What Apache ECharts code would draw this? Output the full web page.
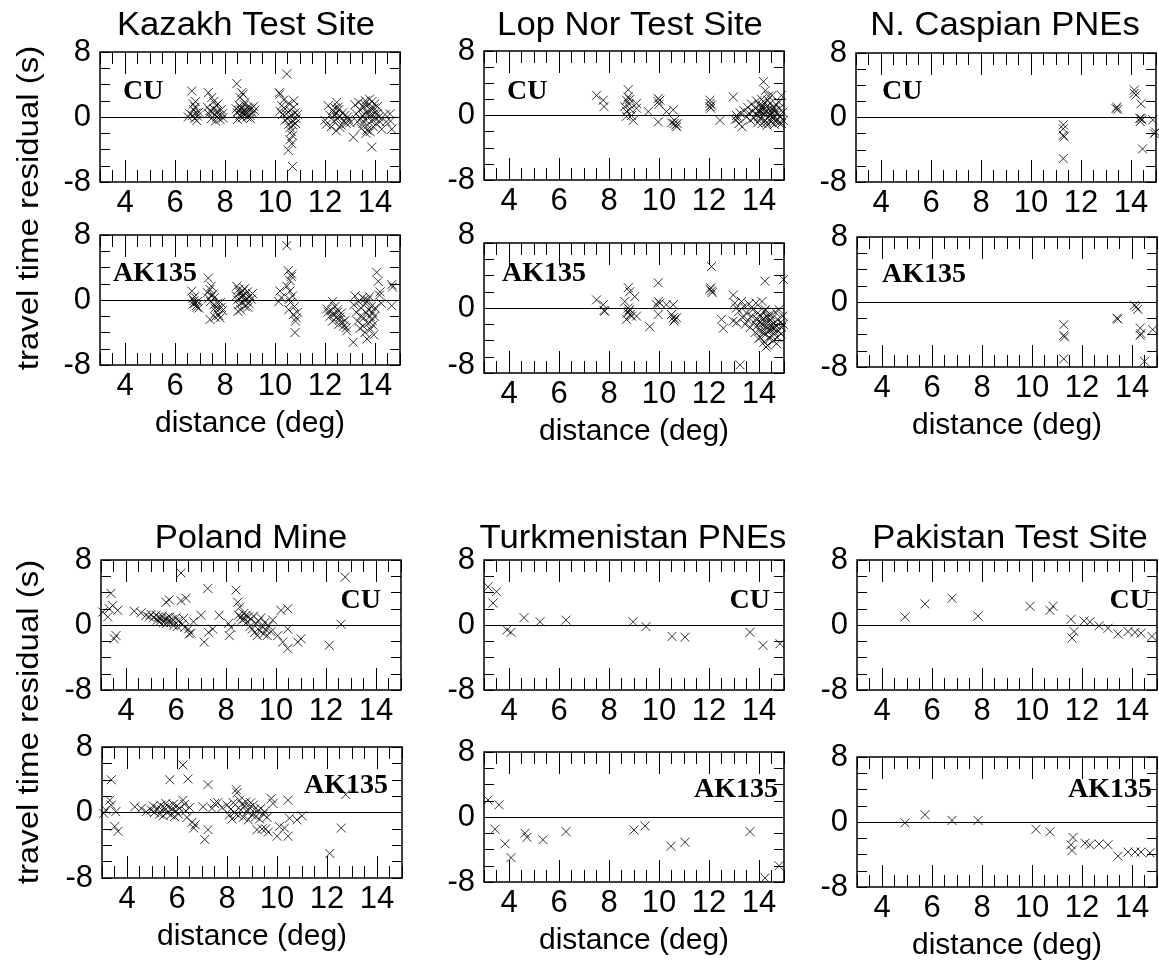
<!DOCTYPE html>
<html><head><meta charset="utf-8">
<script src="https://cdn.jsdelivr.net/npm/echarts@6/dist/echarts.min.js"></script>
<style>html,body{margin:0;padding:0;background:#fff}#c{width:1159px;height:966px}</style>
</head><body><div id="c"></div>
<script>
// ---------- DATA ----------
const xTickLabels = [4, 6, 8, 10, 12, 14];
const yTickLabels = [-8, 0, 8];
const siteTitles = ["Kazakh Test Site", "Lop Nor Test Site", "N. Caspian PNEs", "Poland Mine", "Turkmenistan PNEs", "Pakistan Test Site"];
const modelNames = ["CU", "AK135"];
const yAxisTitle = "travel time residual (s)";
const xAxisTitle = "distance (deg)";

const kazakhCU = [[6.67,3.2],[6.73,1.6],[6.8,1.2],[6.75,0.9],[6.85,0.5],[6.7,0.2],[6.53,0],[6.9,0.1],[6.87,-0.45],[6.78,-0.2],[6.95,0.6],[6.82,1.9],[6.6,0.4],
[7.33,3.0],[7.47,2.4],[7.3,1.2],[7.4,0.8],[7.5,0.5],[7.55,1.0],[7.6,0.3],[7.65,1.4],[7.7,0.7],[7.75,0.2],[7.8,-0.3],[7.85,0.9],[7.9,0.4],[7.45,-0.2],[7.35,0.4],[7.62,-0.5],[7.72,1.6],[7.55,1.9],[7.92,-0.1],[7.68,0.0],
[8.47,4.1],[8.67,3.0],[8.72,2.8],[8.6,2.4],[8.8,1.8],[8.45,1.0],[8.5,0.5],[8.55,0.8],[8.6,0.2],[8.65,1.1],[8.7,0.6],[8.75,0.3],[8.8,0.9],[8.85,0.4],[8.9,1.2],[8.95,0.7],[9.0,0.2],[9.05,1.0],[9.1,0.5],[9.15,1.3],[8.5,-0.3],[8.58,1.4],[8.68,-0.1],[8.78,1.5],[8.88,0.0],[9.02,-0.2],[8.62,0.9],[8.82,0.6],[9.18,0.8],[8.98,1.1],
[10.47,5.3],[10.17,3.0],[10.2,2.8],[10.27,1.4],[10.2,0.7],[10.35,2.1],[10.4,1.0],[10.45,0.4],[10.5,-0.2],[10.55,1.7],[10.6,0.8],[10.65,0.2],[10.7,-0.5],[10.75,1.2],[10.8,0.5],[10.85,-0.2],[10.9,0.3],[10.55,-0.9],[10.6,-1.3],[10.65,-1.8],[10.7,-2.3],[10.6,-2.8],[10.67,-3.3],[10.53,-4.1],[10.7,-6.1],[10.72,-1.0],[10.82,-0.8],[10.4,-0.4],[10.3,0.3],[10.75,2.0],
[12.13,1.4],[12.47,1.8],[12.0,-0.4],[12.05,-0.9],[12.2,0.2],[12.3,0.8],[12.35,-0.5],[12.4,1.1],[12.45,0.4],[12.5,-0.2],[12.55,0.9],[12.6,0.1],[12.65,-1.0],[12.7,0.5],[12.75,-0.5],[12.8,0.2],[12.85,-0.8],[12.9,0.0],[12.95,-0.3],[13.0,-0.7],[12.25,-1.2],[12.45,-1.7],[12.6,-1.3],[12.38,0.3],[12.52,1.2],
[13.13,-2.5],[13.2,1.5],[13.25,0.4],[13.3,-0.6],[13.35,1.8],[13.4,0.9],[13.45,-1.4],[13.5,0.2],[13.55,1.2],[13.6,-0.3],[13.62,2.0],[13.65,0.6],[13.7,-1.0],[13.72,1.5],[13.75,0.1],[13.8,-1.8],[13.82,0.9],[13.85,-0.5],[13.88,1.9],[13.9,0.3],[13.93,-1.2],[13.95,1.1],[14.0,-0.2],[14.02,0.6],[14.05,-0.8],[14.1,1.3],[14.15,0.0],[14.2,-0.6],[13.87,-3.7],[13.68,-1.6],[13.58,1.6],[13.42,-0.2],[13.78,2.2],[14.08,0.4],[13.52,-0.8],[13.98,1.6],[13.74,0.5],[13.64,-2.0],
[14.27,-1.5],[14.4,0.3],[14.45,-0.6],[14.6,0.4],[14.67,-1.5],[14.62,-0.5]];

const kazakhAK = [[6.67,1.1],[6.7,0.2],[6.75,-0.1],[6.8,-0.4],[6.85,-0.7],[6.9,-0.2],[6.95,-1.0],[6.78,0.4],[6.72,-0.5],[6.88,-0.9],
[7.33,2.7],[7.4,1.3],[7.47,0.5],[7.3,0.9],[7.35,0.2],[7.42,-0.2],[7.5,0.7],[7.55,-0.6],[7.6,-1.0],[7.65,-1.5],[7.7,-0.4],[7.75,-1.9],[7.8,-2.2],[7.85,-0.9],[7.9,-1.3],[7.4,-2.4],[7.6,-2.1],[7.72,-1.0],[7.82,-0.3],[7.58,0.3],[7.45,1.7],
[8.47,1.7],[8.55,1.3],[8.45,0.5],[8.5,0.0],[8.55,-0.6],[8.6,0.9],[8.65,0.3],[8.7,-0.3],[8.75,0.6],[8.8,-0.8],[8.85,0.2],[8.9,1.0],[8.95,-0.4],[9.0,0.5],[9.05,0.1],[9.1,0.8],[8.62,-1.2],[8.72,1.1],[8.82,-0.1],[8.52,-1.4],[8.92,-0.9],[8.68,0.5],[8.78,1.4],
[10.47,6.7],[10.2,1.1],[10.25,0.3],[10.15,-0.2],[10.53,3.6],[10.67,3.2],[10.6,2.4],[10.47,1.7],[10.6,1.1],[10.7,0.5],[10.62,-0.3],[10.55,-1.2],[10.73,-1.8],[10.85,-2.2],[10.8,-4.0],[10.9,-1.5],[10.78,-0.8],[10.65,2.9],[10.58,0.1],[10.82,-2.6],
[12.07,-1.1],[12.12,-1.5],[12.2,-2.0],[12.25,-1.3],[12.3,-2.6],[12.35,-1.8],[12.4,-0.8],[12.45,-2.2],[12.5,-1.5],[12.55,-3.0],[12.6,-2.1],[12.65,-1.6],[12.7,-2.8],[12.75,-3.2],[12.8,-2.5],[12.85,-3.4],[12.87,-3.8],[12.3,-0.2],[12.5,-1.2],[12.6,-2.4],
[13.13,-5.2],[13.15,-0.6],[13.2,0.5],[13.25,-1.5],[13.3,-2.6],[13.35,-0.2],[13.4,-3.5],[13.45,-1.0],[13.5,0.3],[13.55,-2.2],[13.6,-4.0],[13.62,-0.4],[13.65,-1.6],[13.7,0.0],[13.72,-2.9],[13.75,-1.2],[13.78,0.4],[13.8,-2.0],[13.82,-3.6],[13.85,-0.8],[13.88,-2.5],[13.9,-1.5],[13.92,-3.1],[13.95,-4.3],[13.98,-2.0],[14.0,-1.0],[13.68,-4.8],[13.52,-3.2],[13.42,-2.0],[13.58,0.1],
[14.07,3.4],[14.13,2.3],[14.2,1.0],[14.18,0.6],[14.25,-0.4],[14.67,1.9],[14.7,1.6],[14.67,-0.7]];

const lopnorCU = [[7.5,2.5],[7.77,1.9],[7.8,1.1],
[8.77,3.2],[8.77,2.3],[8.7,1.9],[8.83,2.0],[8.63,1.1],[8.7,0.5],[8.9,0.0],[8.7,-0.1],[8.97,-0.6],[9.1,1.5],[9.1,0.9],[8.8,1.4],[8.85,0.8],
[9.57,0.5],[9.97,2.1],[9.97,1.7],[10.03,1.9],[10.0,1.4],[9.97,-0.8],[10.3,0.5],[10.57,0.7],[10.6,-1.0],[10.67,-1.2],[10.73,-1.0],[10.5,-0.9],[10.62,-0.6],[10.7,-1.4],
[12.04,1.9],[12.04,1.5],[12.04,1.1],[12.07,0.9],[12.1,1.3],[12.44,-0.6],
[12.97,2.3],[13.1,0.0],[13.15,-0.4],[13.2,-1.0],[13.32,-1.4],[13.25,0.3],[13.05,-0.5],
[13.4,0.6],[13.5,-0.2],[13.55,1.0],[13.6,0.3],[13.65,-0.6],[13.7,1.4],[13.75,0.5],[13.8,-0.3],[13.85,0.9],[13.9,1.8],[13.92,0.1],[13.95,-0.9],[14.0,0.7],[14.02,1.3],[14.05,-0.4],[14.08,0.4],[14.1,2.0],[14.12,-1.0],[14.15,0.9],[14.18,4.2],[14.2,0.2],[14.22,1.6],[14.25,3.1],[14.25,-0.6],[14.28,0.6],[14.3,1.1],[14.32,-1.2],[14.35,0.3],[14.38,2.4],[14.4,-0.2],[14.42,0.8],[14.45,1.5],[14.48,-0.8],[14.5,0.4],[14.52,2.5],[14.55,-0.3],[14.58,1.0],[14.6,0.0],[14.62,-1.1],[14.65,0.6],[14.7,1.3],[14.72,-0.5],[14.75,0.2],[14.8,-0.9],[14.82,0.9],[14.85,-0.2],[14.9,2.5],[14.9,-1.0],[14.95,0.4],[14.97,-0.6],[14.3,-0.9],[14.1,0.8],[14.0,-0.1],[14.45,0.1],[14.65,-0.7],[14.15,1.2],[14.35,1.9],[14.55,0.7],[14.78,1.7],[13.98,0.5]];

const lopnorAK = [[7.5,1.0],[7.77,0.4],[7.8,-0.3],[7.83,-0.4],
[8.63,0.8],[8.77,2.5],[8.83,2.0],[9.03,1.4],[8.77,0.0],[8.8,-0.4],[8.85,-0.8],[8.9,-1.0],[8.7,-1.4],[8.75,-0.6],[9.1,-1.0],[8.82,-0.2],
[9.63,-2.3],[9.97,3.1],[9.97,0.8],[10.03,0.6],[9.9,0.4],[9.97,-0.8],[10.3,0.4],[10.57,0.4],[10.57,-1.2],[10.63,-1.4],[10.5,-0.8],[10.7,-1.2],[10.6,-1.6],
[12.1,5.1],[12.07,2.5],[12.1,2.1],[12.04,2.3],[12.13,1.9],[12.5,-1.4],[12.57,-2.5],
[12.97,1.6],[13.03,0.6],[13.1,0.0],[12.97,-1.6],[13.1,-1.8],[13.24,-7.0],
[13.2,-0.4],[13.3,0.8],[13.35,-1.2],[13.4,0.2],[13.45,-2.0],[13.5,-0.6],[13.55,-1.5],[13.6,0.5],[13.65,-2.4],[13.7,-1.0],[13.75,-0.2],[13.8,-1.8],[13.85,-3.0],[13.88,0.6],[13.9,-1.3],[13.92,-2.2],[13.95,-0.6],[14.0,-1.6],[14.02,-2.8],[14.05,-3.6],[14.08,-1.0],[14.1,-2.0],[14.12,0.8],[14.15,-1.4],[14.18,-2.6],[14.2,-4.2],[14.22,-0.4],[14.24,3.3],[14.25,-1.8],[14.28,-3.2],[14.3,-2.3],[14.32,-1.0],[14.35,-4.6],[14.38,-2.7],[14.4,-1.6],[14.42,-3.8],[14.45,-0.8],[14.48,-2.1],[14.5,-3.4],[14.52,-1.3],[14.55,-2.5],[14.58,-4.0],[14.6,-1.9],[14.62,-3.0],[14.65,-0.5],[14.7,-2.2],[14.72,-3.6],[14.75,-1.4],[14.78,-2.8],[14.8,-0.2],[14.85,-1.8],[14.88,-3.2],[14.9,-2.4],[14.95,-1.0],[14.98,3.5],[14.97,-2.0],[14.15,-3.0],[14.25,-0.2],[14.45,-2.7],[14.05,-1.7],[14.35,-1.2],[14.6,-2.6],[13.98,-3.8],[14.7,-4.4],[14.28,-4.8]];

const caspianCU = [[11.29,-0.9],[11.29,-1.4],[11.29,-2.2],[11.32,-2.4],[11.29,-5.1],[13.43,1.3],[13.4,1.1],[13.47,1.0],[14.13,3.4],[14.13,3.0],[14.2,2.8],[14.4,1.7],[14.4,-0.1],[14.37,-0.5],[14.43,-0.3],[14.35,-0.1],[14.46,-3.9],[14.87,-0.3],[14.93,-2.0],[14.98,-1.8]];

const caspianAK = [[11.27,-2.8],[11.27,-4.1],[11.3,-4.3],[11.27,-7.0],[13.43,-2.1],[13.4,-2.0],[14.1,-0.4],[14.17,-0.6],[14.23,-0.9],[14.33,-3.2],[14.36,-3.9],[14.33,-4.1],[14.5,-7.3],[14.83,-3.4]];

const polandCU = [[3.07,1.6],[3.27,1.0],[3.33,2.0],[3.4,3.9],[3.47,2.4],[3.67,1.8],[3.53,-1.7],[3.6,-1.3],
[4.33,1.7],[4.6,1.5],[4.8,1.2],[4.93,1.0],[5.0,1.3],[5.1,0.9],[5.2,1.2],[5.25,0.6],[5.3,1.0],[5.35,0.4],[5.4,0.8],[5.45,1.1],[5.5,0.3],[5.55,0.7],[5.6,2.8],[5.62,0.2],[5.65,0.9],[5.7,0.5],[5.73,3.1],[5.75,1.0],[5.8,0.3],[5.85,0.7],[5.9,-0.1],[5.95,0.4],[6.0,0.9],[6.05,-0.2],[6.1,0.5],[6.2,6.4],[6.2,3.0],[6.4,3.3],[6.3,0.8],[6.25,0.1],[6.35,-0.3],[6.5,-0.5],[6.53,-1.1],[6.6,-1.0],[7.0,1.2],[6.7,0.4],
[7.13,-2.1],[7.27,4.5],[7.3,-0.9],[7.47,-0.5],[7.73,1.2],[8.13,-1.3],[8.2,-0.3],[8.1,0.2],
[8.4,4.3],[8.47,2.8],[8.55,2.2],[8.5,1.2],[8.6,1.0],[8.65,0.6],[8.7,1.4],[8.75,0.8],[8.8,1.2],[8.85,0.4],[8.9,1.0],[8.95,-0.2],[9.0,0.7],[9.05,-0.5],[9.1,1.1],[9.15,-0.9],[9.2,0.2],[9.25,-1.3],[9.3,0.5],[9.35,-0.7],[9.4,0.9],[9.45,-0.2],[9.5,-1.1],[9.55,0.3],[9.6,-0.6],[9.65,-1.3],[9.7,-0.1],[9.8,-0.8],[9.87,0.6],[10.07,-1.3],[10.2,1.8],[10.47,2.0],[10.47,-0.5],[10.27,-2.1],[10.47,-2.9],[10.87,-2.1],[11.0,-1.7],
[12.13,-2.5],[12.6,0.1],[12.77,5.9]];

const polandAK = [[3.07,-0.1],[3.15,0.3],[3.37,4.0],[3.31,1.5],[3.37,0.9],[3.55,0.1],[3.51,-1.7],[3.64,-2.3],
[4.31,0.7],[4.57,0.5],[4.77,0.1],[4.97,0.3],[5.05,0.8],[5.1,0.0],[5.2,0.5],[5.3,-0.2],[5.35,0.9],[5.4,0.3],[5.45,-0.4],[5.5,0.6],[5.55,1.1],[5.6,0.0],[5.65,0.7],[5.71,4.0],[5.75,-0.3],[5.8,0.4],[5.85,1.0],[5.9,-0.5],[5.95,0.2],[6.0,0.8],[6.05,-0.2],[6.1,0.5],[6.24,5.8],[6.44,4.1],[6.24,1.5],[6.3,1.0],[6.35,0.2],[6.4,-0.6],[6.6,-1.2],[6.67,-1.9],[6.73,-1.5],[6.5,0.6],
[7.04,0.7],[7.24,3.4],[7.24,-2.1],[7.11,-3.3],[7.5,1.1],[7.63,1.2],[7.4,0.5],[7.8,0.6],
[8.0,0.9],[8.1,-0.3],[8.15,0.4],[8.2,-0.8],[8.25,1.2],[8.3,0.0],[8.37,2.8],[8.4,2.4],[8.45,-0.4],[8.5,1.5],[8.55,0.3],[8.6,1.0],[8.65,-0.6],[8.7,0.8],[8.75,1.3],[8.8,0.1],[8.85,-0.9],[8.9,0.6],[8.95,1.2],[9.0,-0.3],[9.05,0.9],[9.1,0.4],[9.15,-0.5],[9.2,-2.1],[9.25,0.2],[9.3,-0.8],[9.35,0.5],[9.4,-2.0],[9.45,-0.2],[9.5,0.1],[9.55,-2.0],[9.6,-0.6],[9.65,-2.4],
[9.84,1.1],[9.77,1.7],[10.0,-2.9],[10.1,-1.7],[10.3,-1.9],[10.44,1.5],[10.44,-2.9],[10.5,-0.7],[10.8,-0.9],[11.0,-0.4],
[12.11,-5.0],[12.57,-1.9],[12.75,2.2]];

const turkmenCU = [[3.16,4.7],[3.5,4.1],[3.36,2.7],[3.92,-0.6],[4.08,-0.9],[4.6,0.9],[5.24,0.4],[6.28,0.6],[8.96,0.4],[9.48,-0.2],[10.52,-1.4],[11.04,-1.5],[13.64,-0.9],[14.16,-2.5],[14.84,-2.3]];

const turkmenAK = [[3.16,2.1],[3.6,1.5],[3.44,-1.5],[3.84,-3.3],[4.08,-5.0],[4.64,-2.0],[4.72,-2.5],[5.36,-2.8],[6.28,-1.8],[9.0,-1.6],[9.44,-1.1],[10.48,-3.6],[11.04,-3.1],[13.64,-1.8],[14.24,-7.5],[14.8,-6.0]];

const pakistanCU = [[4.92,1.0],[5.72,2.6],[6.8,3.3],[7.84,1.1],[9.92,2.3],[10.72,1.8],[10.84,2.3],[11.56,0.7],[11.68,-0.8],[11.6,-1.6],[12.08,0.5],[12.32,0.4],[12.68,-0.1],[13.04,-0.4],[13.44,-1.1],[13.84,-0.8],[14.12,-0.9],[14.36,-1.0],[14.8,-1.4]];

const pakistanAK = [[4.92,-0.1],[5.72,0.9],[6.8,0.2],[7.84,0.2],[10.16,-0.9],[10.72,-1.2],[11.56,-2.8],[11.6,-3.5],[11.64,-1.9],[12.12,-2.6],[12.32,-2.8],[12.68,-2.7],[13.04,-2.8],[13.44,-4.2],[13.84,-3.7],[14.12,-3.7],[14.36,-3.7],[14.72,-3.8]];

// ---------- LAYOUT (positions / styles) ----------
const panels = [
  {data: kazakhCU,   box: [100, 52, 300, 130], model: 0, tag: [123, 92, 'left']},
  {data: kazakhAK,   box: [100, 235, 300, 130], model: 1, tag: [113, 274, 'left']},
  {data: lopnorCU,   box: [484, 51, 300, 129], model: 0, tag: [507, 92, 'left']},
  {data: lopnorAK,   box: [484, 243, 300, 130], model: 1, tag: [502, 274, 'left'], labelLift: 8},
  {data: caspianCU,  box: [856, 53, 300, 129], model: 0, tag: [882, 92, 'left']},
  {data: caspianAK,  box: [857, 237, 300, 130], model: 1, tag: [882, 275, 'left']},
  {data: polandCU,   box: [101, 560, 300, 130], model: 0, tag: [381, 601, 'right']},
  {data: polandAK,   box: [102, 747, 300, 131], model: 1, tag: [388, 786, 'right']},
  {data: turkmenCU,  box: [484, 560, 300, 130], model: 0, tag: [770, 601, 'right']},
  {data: turkmenAK,  box: [484, 752, 300, 130], model: 1, tag: [778, 790, 'right']},
  {data: pakistanCU, box: [857, 560, 300, 130], model: 0, tag: [1150, 601, 'right']},
  {data: pakistanAK, box: [857, 757, 300, 130], model: 1, tag: [1152, 790, 'right']}
];
const titlePos = [[246, 26], [630, 26], [1005, 26], [251, 539], [633, 539], [1010, 539]];

const SANS = '"Liberation Sans", Arial, Helvetica, sans-serif';
const SERIF = '"Liberation Serif", "Times New Roman", serif';
const TICK_FS = 31;

const grids = [], xAxes = [], yAxes = [], series = [], graphics = [];
const tickLine = {color: '#000', width: 1};

panels.forEach((p, i) => {
  const [l, t, w, h] = p.box;
  grids.push({left: l, top: t, width: w, height: h, show: true, borderColor: '#000', borderWidth: 1.5,
    backgroundColor: 'transparent', containLabel: false, outerBoundsMode: 'none'});
  const baseX = {gridIndex: i, type: 'value', min: 3, max: 15, splitLine: {show: false},
    axisLine: {show: false, onZero: false}};
  xAxes.push(Object.assign({}, baseX, {position: 'bottom', interval: 0.5,
    axisTick: {show: true, inside: true, length: 12, lineStyle: tickLine},
    axisLabel: {show: true, customValues: xTickLabels, margin: 6, fontSize: TICK_FS, fontFamily: SANS, color: '#000'}}));
  xAxes.push(Object.assign({}, baseX, {position: 'bottom',
    axisTick: {show: true, inside: true, length: 22, customValues: xTickLabels, lineStyle: tickLine},
    axisLabel: {show: false}}));
  xAxes.push(Object.assign({}, baseX, {position: 'top', interval: 0.5,
    axisTick: {show: true, inside: true, length: 12, lineStyle: tickLine},
    axisLabel: {show: false}}));
  xAxes.push(Object.assign({}, baseX, {position: 'top',
    axisTick: {show: true, inside: true, length: 22, customValues: xTickLabels, lineStyle: tickLine},
    axisLabel: {show: false}}));
  const baseY = {gridIndex: i, type: 'value', min: -8, max: 8, interval: 2, splitLine: {show: false},
    axisLine: {show: false, onZero: false},
    axisTick: {show: true, inside: true, length: 10, lineStyle: tickLine}};
  const yLabel = {show: true, customValues: yTickLabels, margin: 9, fontSize: TICK_FS, fontFamily: SANS, color: '#000'};
  if (p.labelLift) {
    const lift = p.labelLift;
    yLabel.formatter = v => (v === 0 ? '{n|0}' : '{u|' + v + '}');
    yLabel.rich = {
      n: {fontSize: TICK_FS, fontFamily: SANS, color: '#000'},
      u: {fontSize: TICK_FS, fontFamily: SANS, color: '#000', padding: [0, 0, lift * 2, 0]}
    };
  }
  yAxes.push(Object.assign({}, baseY, {position: 'left', axisLabel: yLabel}));
  yAxes.push(Object.assign({}, baseY, {position: 'right', axisLabel: {show: false}}));

  series.push({
    type: 'scatter', xAxisIndex: i * 4, yAxisIndex: i * 2, data: p.data,
    symbol: 'path://M0,0L10,10M10,0L0,10', symbolSize: 9,
    itemStyle: {color: 'rgba(0,0,0,0)', borderColor: '#000', borderWidth: 1},
    emphasis: {disabled: true}, silent: true,
    markLine: {silent: true, symbol: ['none', 'none'], label: {show: false},
      lineStyle: {color: '#000', width: 1, type: 'solid'}, data: [{yAxis: 0}]}
  });

  graphics.push({type: 'text', x: p.tag[0], y: p.tag[1], silent: true,
    style: {text: modelNames[p.model], fill: '#000', font: 'bold 28px ' + SERIF,
      align: p.tag[2], verticalAlign: 'middle'}});

  if (p.model === 1) {
    graphics.push({type: 'text', x: l + w / 2, y: t + h + 59, silent: true,
      style: {text: xAxisTitle, fill: '#000', font: '30px ' + SANS, align: 'center', verticalAlign: 'middle'}});
  }
});

siteTitles.forEach((s, k) => {
  graphics.push({type: 'text', x: titlePos[k][0], y: titlePos[k][1], scaleX: 1.05, silent: true,
    style: {text: s, fill: '#000', font: '33px ' + SANS, align: 'center', verticalAlign: 'middle'}});
});
[[30, 208], [30, 722]].forEach(pos => {
  graphics.push({type: 'text', x: pos[0], y: pos[1], rotation: Math.PI / 2, scaleX: 1.1, silent: true,
    style: {text: yAxisTitle, fill: '#000', font: '30px ' + SANS, align: 'center', verticalAlign: 'middle'}});
});

const chart = echarts.init(document.getElementById('c'), null, {renderer: 'canvas'});
chart.setOption({
  animation: false,
  backgroundColor: '#fff',
  grid: grids, xAxis: xAxes, yAxis: yAxes, series: series, graphic: graphics
});
</script></body></html>
